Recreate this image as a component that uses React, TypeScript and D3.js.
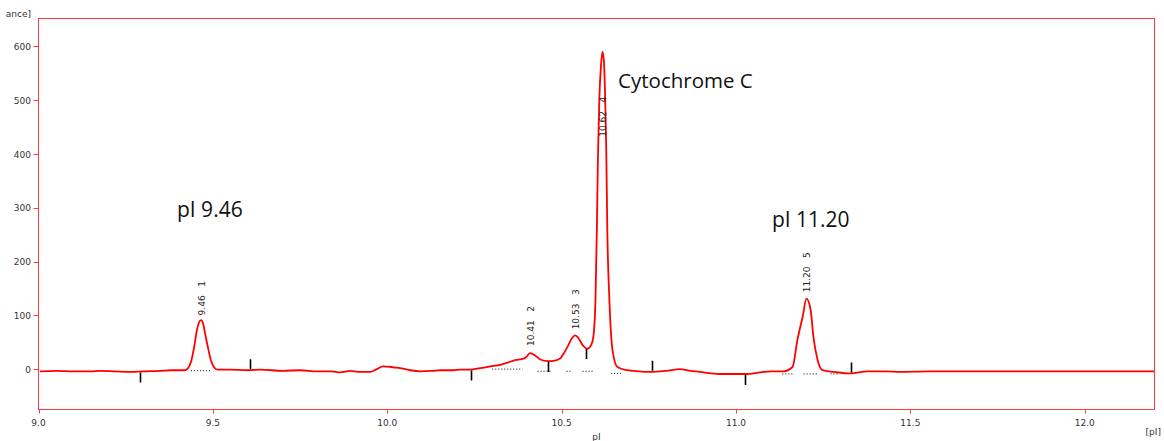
import React from "react";
import * as d3 from "d3";

// ---- data ----
const curvePI = [
  9.004, 9.05, 9.1, 9.15, 9.176, 9.22, 9.263, 9.3, 9.349, 9.38, 9.406, 9.42, 9.429, 9.438, 9.446, 9.455, 9.461, 9.466,
  9.472, 9.478, 9.486, 9.495, 9.504, 9.515, 9.549, 9.6, 9.636, 9.7, 9.75, 9.8, 9.84, 9.865, 9.894, 9.92, 9.951, 9.97,
  9.988, 10.01, 10.023, 10.045, 10.066, 10.095, 10.13, 10.152, 10.19, 10.209, 10.238, 10.267, 10.295, 10.324, 10.345,
  10.362, 10.38, 10.396, 10.41, 10.425, 10.439, 10.462, 10.48, 10.496, 10.505, 10.517, 10.53, 10.539, 10.548, 10.56,
  10.574, 10.585, 10.591, 10.597, 10.601, 10.604, 10.608, 10.613, 10.617, 10.621, 10.625, 10.628, 10.631, 10.637,
  10.646, 10.66, 10.688, 10.72, 10.753, 10.8, 10.839, 10.87, 10.897, 10.93, 10.954, 10.99, 11.027, 11.07, 11.1, 11.136,
  11.162, 11.176, 11.191, 11.202, 11.214, 11.222, 11.234, 11.248, 11.28, 11.329, 11.377, 11.43, 11.472, 11.55, 11.616,
  11.7, 11.759, 11.85, 11.903, 11.98, 12.046, 12.12, 12.201,
];
const curveAbs = [
  -4, -3, -4, -4, -3, -4, -5, -4, -3, -2, -2, -2, 2, 15, 40, 75, 88, 91,
  85, 65, 40, 15, 3, -1, -1, -2, -1, -3, -2, -4, -4, -6, -3, -5, -5, 0,
  5, 4, 3, 1, -2, -4, -3, -2, -2, -1, -1, 2, 5, 8, 12,
  16, 18, 21, 30, 25, 18, 15, 16, 20, 28, 42, 58, 63, 58, 45,
  38, 45, 60, 128, 259, 389, 500, 566, 590, 575, 500, 407, 259, 128,
  35, 4, -2, -4, -5, -3, 0, -3, -5, -8, -9, -9, -9, -6, -4, -4,
  4, 54, 97, 131, 110, 60, 17, -2, -5, -8, -4, -4, -5, -4, -4,
  -4, -4, -4, -4, -4, -4, -4, -4,
];

const peakPI = [9.466, 10.41, 10.539, 10.617, 11.202];
const peakLabel = ["9.46", "10.41", "10.53", "10.62", "11.20"];
const peakNumber = ["1", "2", "3", "4", "5"];
const peakLabelAbs = [100, 43, 74, 432, 143];

const markerPI = [9.292, 9.607, 10.241, 10.462, 10.571, 10.76, 11.027, 11.33];
const markerKind = ["start", "end", "start", "start", "start", "end", "start", "end"];

const baseStart = [9.437, 10.301, 10.431, 10.514, 10.56, 10.642, 11.133, 11.194, 11.271];
const baseEnd = [9.492, 10.388, 10.468, 10.531, 10.591, 10.67, 11.165, 11.237, 11.291];
const baseAbs = [-1, 2, -2, -2, -2, -6, -7, -7, -7];

const xTicks = [9.0, 9.5, 10.0, 10.5, 11.0, 11.5, 12.0];
const yTicks = [0, 100, 200, 300, 400, 500, 600];

const annotations = ["pI 9.46", "Cytochrome C", "pI 11.20"];
const annotationPI = [9.397, 10.662, 11.103];
const annotationAbs = [283, 523, 265];

export default function App() {
  const W = 1164, H = 441;
  const L = 38.5, R = 1154.5, T = 18.5, B = 409.5;
  const x = d3.scaleLinear().domain([9.0, 12.2]).range([L, R]);
  const y = d3.scaleLinear().domain([-75, 652]).range([B, T]);
  const pts: [number, number][] = curvePI.map((p, i) => [p, curveAbs[i]]);
  const line = d3.line<[number, number]>().x((d) => x(d[0])).y((d) => y(d[1])).curve(d3.curveMonotoneX);
  const interp = (p: number) => {
    const i = d3.bisectLeft(curvePI, p);
    if (i <= 0) return curveAbs[0];
    if (i >= curvePI.length) return curveAbs[curveAbs.length - 1];
    const t = (p - curvePI[i - 1]) / (curvePI[i] - curvePI[i - 1]);
    return curveAbs[i - 1] + t * (curveAbs[i] - curveAbs[i - 1]);
  };
  const frame = "#ff3b3b";
  const tickFont = { fontFamily: "DejaVu Sans, Verdana, sans-serif", fontSize: 9, fill: "#333" };
  return (
    <svg width={W} height={H} style={{ position: "absolute", left: 0, top: 0, background: "#fff" }}>
      <rect x={0} y={0} width={W} height={H} fill="#fff" />
      <defs>
        <clipPath id="plot">
          <rect x={L} y={T} width={R - L} height={B - T} />
        </clipPath>
      </defs>
      {yTicks.map((v) => (
        <g key={"y" + v}>
          <line x1={L - 5} x2={L} y1={Math.round(y(v)) + 0.5} y2={Math.round(y(v)) + 0.5} stroke={frame} />
          <text x={31} y={y(v) + 3.5} textAnchor="end" {...tickFont}>{v}</text>
        </g>
      ))}
      {xTicks.map((v) => (
        <g key={"x" + v}>
          <line x1={Math.round(x(v)) + 0.5} x2={Math.round(x(v)) + 0.5} y1={B} y2={B + 4} stroke={frame} />
          <text x={x(v)} y={426} textAnchor="middle" {...tickFont}>{v.toFixed(1)}</text>
        </g>
      ))}
      <text x={31} y={17} textAnchor="end" {...tickFont}>ance]</text>
      <text x={(L + R) / 2} y={440} textAnchor="middle" {...tickFont}>pI</text>
      <text x={1161} y={435} textAnchor="end" {...tickFont}>[pI]</text>

      <g clipPath="url(#plot)">
        {baseStart.map((s, i) => (
          <line key={"b" + i} x1={x(s)} x2={x(baseEnd[i])} y1={y(baseAbs[i]) + 1} y2={y(baseAbs[i]) + 1}
            stroke="#000" strokeWidth={1} strokeDasharray="1,2" />
        ))}
        <path d={line(pts) || ""} fill="none" stroke="#ff0000" strokeWidth={1.8} strokeLinejoin="round" />
        {markerPI.map((p, i) => {
          const yy = y(interp(p));
          const dir = markerKind[i] === "start" ? 1 : -1;
          return (
            <line key={"m" + i} x1={Math.round(x(p)) + 0.5} x2={Math.round(x(p)) + 0.5} y1={yy + dir * 1}
              y2={yy + dir * 11} stroke="#000" strokeWidth={1.6} />
          );
        })}
        {peakPI.map((p, i) => (
          <text key={"p" + i} transform={`translate(${x(p) + 4},${y(peakLabelAbs[i])}) rotate(-90)`}
            style={{ whiteSpace: "pre" }} fontFamily="DejaVu Sans, Verdana, sans-serif" fontSize={9} fill="#222">
            {peakLabel[i] + "   " + peakNumber[i]}
          </text>
        ))}
      </g>
      <rect x={L} y={T} width={R - L} height={B - T} fill="none" stroke={frame} strokeWidth={1} />
      {annotations.map((a, i) => (
        <text key={"a" + i} x={x(annotationPI[i])} y={y(annotationAbs[i])} textAnchor="start"
          fontFamily="Open Sans, sans-serif" fontSize={i === 1 ? 20.5 : 21} fill="#111">
          {a}
        </text>
      ))}
    </svg>
  );
}
